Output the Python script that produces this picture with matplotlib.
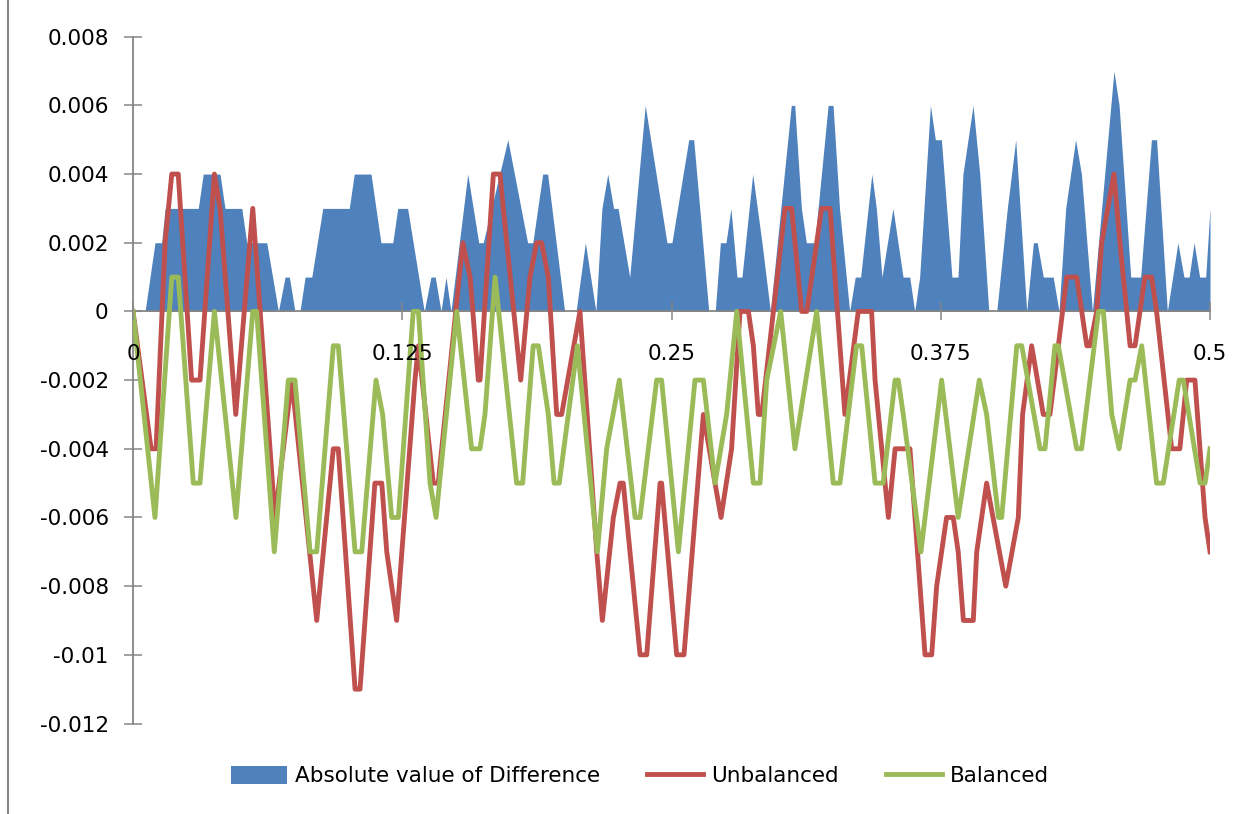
import matplotlib
matplotlib.use("Agg")
import matplotlib.pyplot as plt
from matplotlib.ticker import FixedLocator, FuncFormatter
from matplotlib.lines import Line2D

# absolute value of (unbalanced - balanced), as (t, value)
diff_pts = [
    (0, 0), (0.0056, 0), (0.0102, 0.002), (0.0133, 0.002), (0.0149, 0.003), (0.0303, 0.003),
    (0.0326, 0.004), (0.0404, 0.004), (0.0427, 0.003), (0.0505, 0.003), (0.0528, 0.002),
    (0.0621, 0.002), (0.0675, 0), (0.0706, 0.001), (0.0726, 0.001), (0.0752, 0), (0.0775, 0),
    (0.0799, 0.001), (0.083, 0.001), (0.0881, 0.003), (0.1004, 0.003), (0.1027, 0.004),
    (0.1105, 0.004), (0.1151, 0.002), (0.1206, 0.002), (0.1229, 0.003), (0.1275, 0.003),
    (0.1352, 0), (0.1383, 0.001), (0.1403, 0.001), (0.143, 0), (0.1453, 0.001), (0.1476, 0),
    (0.1554, 0.004), (0.1605, 0.002), (0.1626, 0.002), (0.174, 0.005), (0.1832, 0.002),
    (0.1856, 0.002), (0.1902, 0.004), (0.1925, 0.004), (0.2004, 0), (0.2057, 0), (0.21, 0.002),
    (0.2149, 0), (0.2177, 0.003), (0.2204, 0.004), (0.2231, 0.003), (0.2252, 0.003),
    (0.2306, 0.001), (0.2378, 0.006), (0.2479, 0.002), (0.2502, 0.002), (0.258, 0.005),
    (0.2603, 0.005), (0.2673, 0), (0.2703, 0), (0.2727, 0.002), (0.2753, 0.002), (0.2776, 0.003),
    (0.2804, 0.001), (0.2827, 0.001), (0.2877, 0.004), (0.292, 0.002), (0.2959, 0),
    (0.3056, 0.006), (0.3072, 0.006), (0.3103, 0.003), (0.3126, 0.002), (0.3165, 0.002),
    (0.3227, 0.006), (0.325, 0.006), (0.328, 0.003), (0.3327, 0), (0.3353, 0.001),
    (0.3378, 0.001), (0.343, 0.004), (0.3451, 0.003), (0.3477, 0.001), (0.3528, 0.003),
    (0.3575, 0.001), (0.3606, 0.001), (0.3629, 0), (0.3652, 0.001), (0.3702, 0.006),
    (0.3725, 0.005), (0.3753, 0.005), (0.3802, 0.001), (0.383, 0.001), (0.3853, 0.004),
    (0.39, 0.006), (0.3931, 0.004), (0.3973, 0), (0.401, 0), (0.4059, 0.003), (0.4098, 0.005),
    (0.4149, 0), (0.418, 0.002), (0.4198, 0.002), (0.4226, 0.001), (0.4272, 0.001), (0.4299, 0),
    (0.433, 0.003), (0.4376, 0.005), (0.4403, 0.004), (0.4454, 0), (0.4554, 0.007),
    (0.4578, 0.006), (0.4632, 0.001), (0.4678, 0.001), (0.4728, 0.005), (0.4752, 0.005),
    (0.4802, 0), (0.4851, 0.002), (0.4879, 0.001), (0.4903, 0.001), (0.4926, 0.002),
    (0.4952, 0.001), (0.498, 0.001), (0.5, 0.003),
]

unbalanced_pts = [
    (0, 0), (0.0084, -0.004), (0.0107, -0.004), (0.0149, 0.002), (0.018, 0.004), (0.021, 0.004),
    (0.0272, -0.002), (0.0311, -0.002), (0.0378, 0.004), (0.0404, 0.003), (0.0477, -0.003),
    (0.0556, 0.003), (0.0659, -0.006), (0.0737, -0.002), (0.0853, -0.009), (0.093, -0.004),
    (0.0953, -0.004), (0.1031, -0.011), (0.1054, -0.011), (0.1123, -0.005), (0.1155, -0.005),
    (0.1178, -0.007), (0.1224, -0.009), (0.1309, -0.002), (0.1325, -0.001), (0.1394, -0.005),
    (0.1417, -0.005), (0.1531, 0.002), (0.1565, 0.001), (0.1603, -0.002), (0.1611, -0.002),
    (0.1673, 0.004), (0.1704, 0.004), (0.1719, 0.003), (0.18, -0.002), (0.1843, 0.001),
    (0.1874, 0.002), (0.1897, 0.002), (0.1928, 0.001), (0.1967, -0.003), (0.199, -0.003),
    (0.2075, 0), (0.2153, -0.007), (0.2179, -0.009), (0.223, -0.006), (0.2261, -0.005),
    (0.2276, -0.005), (0.2354, -0.01), (0.2385, -0.01), (0.2447, -0.005), (0.2454, -0.005),
    (0.2524, -0.01), (0.2558, -0.01), (0.2648, -0.003), (0.2702, -0.005), (0.273, -0.006),
    (0.2779, -0.004), (0.2818, 0), (0.2857, 0), (0.288, -0.001), (0.2903, -0.003),
    (0.2919, -0.003), (0.3027, 0.003), (0.3058, 0.003), (0.3104, 0), (0.3128, 0),
    (0.3197, 0.003), (0.3236, 0.003), (0.3305, -0.003), (0.3367, 0), (0.3429, 0),
    (0.3445, -0.002), (0.3507, -0.006), (0.3538, -0.004), (0.3607, -0.004), (0.3677, -0.01),
    (0.3708, -0.01), (0.3731, -0.008), (0.3777, -0.006), (0.3808, -0.006), (0.3831, -0.007),
    (0.3855, -0.009), (0.3901, -0.009), (0.3917, -0.007), (0.3963, -0.005), (0.4052, -0.008),
    (0.411, -0.006), (0.413, -0.003), (0.4172, -0.001), (0.4226, -0.003), (0.4257, -0.003),
    (0.4296, -0.001), (0.4335, 0.001), (0.4381, 0.001), (0.4428, -0.001), (0.4443, -0.001),
    (0.4474, 0), (0.4497, 0.002), (0.4554, 0.004), (0.4582, 0.002), (0.4629, -0.001),
    (0.4652, -0.001), (0.4698, 0.001), (0.4729, 0.001), (0.4752, 0), (0.4822, -0.004),
    (0.486, -0.004), (0.4892, -0.002), (0.493, -0.002), (0.4977, -0.006), (0.5, -0.007),
]

balanced_pts = [
    (0, 0), (0.0102, -0.006), (0.018, 0.001), (0.021, 0.001), (0.028, -0.005), (0.0311, -0.005),
    (0.0378, 0), (0.0478, -0.006), (0.0556, 0), (0.0574, 0), (0.0656, -0.007), (0.0721, -0.002),
    (0.0752, -0.002), (0.0822, -0.007), (0.0853, -0.007), (0.093, -0.001), (0.0953, -0.001),
    (0.1031, -0.007), (0.1062, -0.007), (0.1128, -0.002), (0.1159, -0.003), (0.1201, -0.006),
    (0.1232, -0.006), (0.1301, 0), (0.1325, 0), (0.1379, -0.005), (0.1407, -0.006),
    (0.1503, 0), (0.1572, -0.004), (0.1611, -0.004), (0.1634, -0.003), (0.1681, 0.001),
    (0.1781, -0.005), (0.1809, -0.005), (0.1858, -0.001), (0.1882, -0.001), (0.1928, -0.003),
    (0.1955, -0.005), (0.1979, -0.005), (0.2063, -0.001), (0.2156, -0.007), (0.2199, -0.004),
    (0.2258, -0.002), (0.2331, -0.006), (0.2354, -0.006), (0.2431, -0.002), (0.2454, -0.002),
    (0.2532, -0.007), (0.2609, -0.002), (0.2648, -0.002), (0.2702, -0.005), (0.2756, -0.003),
    (0.2803, 0), (0.288, -0.005), (0.2911, -0.005), (0.2942, -0.002), (0.3007, 0),
    (0.3073, -0.004), (0.3174, 0), (0.3251, -0.005), (0.3282, -0.005), (0.3359, -0.001),
    (0.3383, -0.001), (0.3445, -0.005), (0.3483, -0.005), (0.3538, -0.002), (0.3553, -0.002),
    (0.3576, -0.003), (0.3658, -0.007), (0.3754, -0.002), (0.3831, -0.006), (0.3929, -0.002),
    (0.3963, -0.003), (0.4018, -0.006), (0.4033, -0.006), (0.4103, -0.001), (0.4126, -0.001),
    (0.4211, -0.004), (0.4234, -0.004), (0.428, -0.001), (0.4296, -0.001), (0.4381, -0.004),
    (0.4404, -0.004), (0.4482, 0), (0.4505, 0), (0.4544, -0.003), (0.4578, -0.004),
    (0.4629, -0.002), (0.4652, -0.002), (0.4683, -0.001), (0.4752, -0.005), (0.4783, -0.005),
    (0.4857, -0.002), (0.4876, -0.002), (0.4954, -0.005), (0.4977, -0.005), (0.5, -0.004),
]

x_ticks = [0, 0.125, 0.25, 0.375, 0.5]
y_ticks = [0.008, 0.006, 0.004, 0.002, 0, -0.002, -0.004, -0.006, -0.008, -0.01, -0.012]

BLUE = "#4F81BD"
RED = "#C0504D"
GREEN = "#9BBB59"
AXIS = "#868686"

plt.rcParams["font.family"] = "DejaVu Sans"

fig = plt.figure(figsize=(12.52, 8.14), dpi=100)
fig.patch.set_facecolor("white")
ax = fig.add_axes([133 / 1252, 1 - 723.5 / 814, (1210 - 133) / 1252, (723.5 - 36.7) / 814])

dx, dy = zip(*diff_pts)
ux, uy = zip(*unbalanced_pts)
bx, by = zip(*balanced_pts)

ax.fill_between(dx, 0, dy, color=BLUE, linewidth=0, zorder=1,
                label="Absolute value of Difference")
ax.plot(ux, uy, color=RED, lw=3.5, solid_joinstyle="round", zorder=3, label="Unbalanced")
ax.plot(bx, by, color=GREEN, lw=3.5, solid_joinstyle="round", zorder=4, label="Balanced")

ax.set_xlim(0, 0.5)
ax.set_ylim(-0.012, 0.008)

# Excel-style axes: category axis crossing at zero, value axis on the left
for side in ("top", "right"):
    ax.spines[side].set_visible(False)
ax.spines["bottom"].set_position(("data", 0))
for side in ("left", "bottom"):
    ax.spines[side].set_color(AXIS)
    ax.spines[side].set_linewidth(1.3)
    ax.spines[side].set_zorder(2)

fmt = FuncFormatter(lambda v, pos: "%g" % round(v, 6))
ax.xaxis.set_major_locator(FixedLocator(x_ticks))
ax.yaxis.set_major_locator(FixedLocator(y_ticks))
ax.xaxis.set_major_formatter(fmt)
ax.yaxis.set_major_formatter(fmt)
ax.tick_params(axis="both", direction="inout", length=13, width=1.1, color=AXIS,
               labelsize=15.5, labelcolor="black")
ax.tick_params(axis="y", pad=11)
ax.tick_params(axis="x", pad=17)
# x labels sit inside the plot, keep them above the series
ax.xaxis.set_zorder(5)

ax.legend(loc="center", bbox_to_anchor=(640 / 1252, 1 - 776 / 814),
          bbox_transform=fig.transFigure, ncol=3, frameon=False, fontsize=15.5,
          handlelength=2.6, handleheight=0.95, handletextpad=0.35, columnspacing=2.2)

# chart area border on the left edge
fig.add_artist(Line2D([8 / 1252, 8 / 1252], [0, 1], transform=fig.transFigure,
                      color=AXIS, lw=1.5))

fig.savefig("out.png", dpi=100, facecolor="white")
